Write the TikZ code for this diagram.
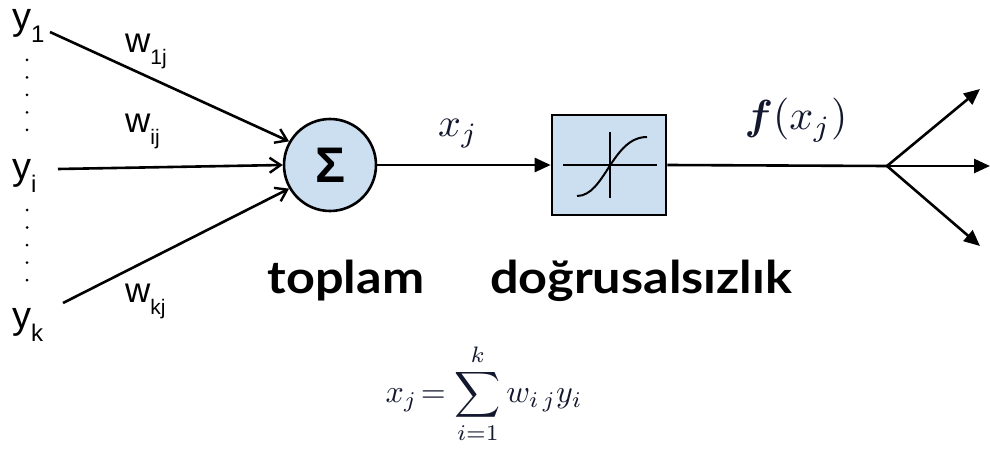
\documentclass[tikz,border=0pt]{standalone}
\usepackage{graphicx}
\usepackage{amsmath}
\usepackage{fontspec}
\setmainfont{Liberation Sans}
\newfontfamily\labfont{Lato Bold}
\usetikzlibrary{arrows.meta}
\definecolor{fillblue}{HTML}{CCDFF1}
\definecolor{mathblue}{HTML}{14182E}
\newcommand{\ysub}[1]{\raisebox{-13pt}{\fontsize{24}{24}\selectfont #1}}
\newcommand{\wsub}[1]{\raisebox{-12pt}{\fontsize{21}{21}\selectfont #1}}
\begin{document}
\begin{tikzpicture}[x=1pt,y=-1pt,
  wire/.style={line width=2.6pt},
  barb/.style={wire,-{Straight Barb[length=11pt,width=15pt,line width=2.4pt]}},
  tri/.style={wire,-{Triangle[length=16pt,width=14pt]}},
  ylab/.style={font=\fontsize{38}{38}\selectfont,inner sep=0pt,anchor=base west},
  wlab/.style={font=\fontsize{35}{35}\selectfont,inner sep=0pt,anchor=base west},
  bigword/.style={font=\labfont\fontsize{45}{45}\selectfont,inner sep=0pt,anchor=base},
  dotcol/.style={line width=3pt,dash pattern=on 0pt off 17.5pt,line cap=round}]
\useasboundingbox (0,0) rectangle (990,457);
% inputs
\node[ylab] (y1) at (12,30) {y\ysub{1}};
\node[ylab] (yi) at (12,180) {y\ysub{i}};
\node[ylab] (yk) at (12,328) {y\ysub{k}};
\coordinate (s1) at (50,32);
\coordinate (si) at (58,169);
\coordinate (sk) at (63,303);
\coordinate (d1a) at (27,60);
\coordinate (d1b) at (27,131);
\coordinate (d2a) at (27,210);
\coordinate (d2b) at (27,281);
\draw[dotcol] (d1a) -- (d1b);
\draw[dotcol] (d2a) -- (d2b);
% sum
\node[circle,draw,line width=2.6pt,fill=fillblue,minimum size=92pt,inner sep=0pt] (sum) at (330,165)
  {\fontsize{50}{50}\selectfont\bfseries Σ};
% nonlinearity
\node[draw,line width=2.6pt,fill=fillblue,minimum width=114pt,minimum height=100pt,inner sep=0pt] (nl) at (609,165) {};
\coordinate (hl) at (563,165);
\coordinate (hr) at (657,165);
\coordinate (vt) at (610,132);
\coordinate (vb) at (610,198);
\coordinate (cs) at (577,196);
\coordinate (ce) at (647,137);
\draw[line width=2.2pt] (hl) -- (hr);
\draw[line width=2.2pt] (vt) -- (vb);
\draw[line width=2pt] (cs) .. controls (605,196) and (612,137) .. (ce);
% connectors
\draw[barb] (s1) -- (sum.150);
\draw[barb] (si) -- (sum.west);
\draw[barb] (sk) -- (sum.210);
\node[wlab] (w1) at (125,53) {w\wsub{1j}};
\node[wlab] (wi) at (125,133) {w\wsub{ij}};
\node[wlab] (wk) at (125,302) {w\wsub{kj}};
\draw[tri] (sum.east) -- (nl.west);
\node[anchor=base,text=mathblue,inner sep=0pt] (xj) at (458,137) {\scalebox{4}{$x_j$}};
% output
\coordinate (br) at (887,166);
\coordinate (o1) at (980,89);
\coordinate (o2) at (990,166);
\coordinate (o3) at (980,246);
\draw[wire] (nl.east) -- (br);
\draw[tri] (br) -- (o1);
\draw[tri] (br) -- (o2);
\draw[tri] (br) -- (o3);
\node[anchor=base,text=mathblue,inner sep=0pt] (fx) at (796,130) {\scalebox{4.2}{$\boldsymbol{f}(x_j)$}};
% labels
\node[bigword] (top) at (346,293) {\scalebox{1.12}[1]{toplam}};
\node[bigword] (dog) at (641,293) {\scalebox{1.12}[1]{doğrusalsızlık}};
\node[text=mathblue,inner sep=0pt] (eq) at (484,394) {\scalebox{3.2}{$\displaystyle x_j\!=\sum_{i=1}^{k} w_{i\,j}y_i$}};
\end{tikzpicture}
\end{document}
